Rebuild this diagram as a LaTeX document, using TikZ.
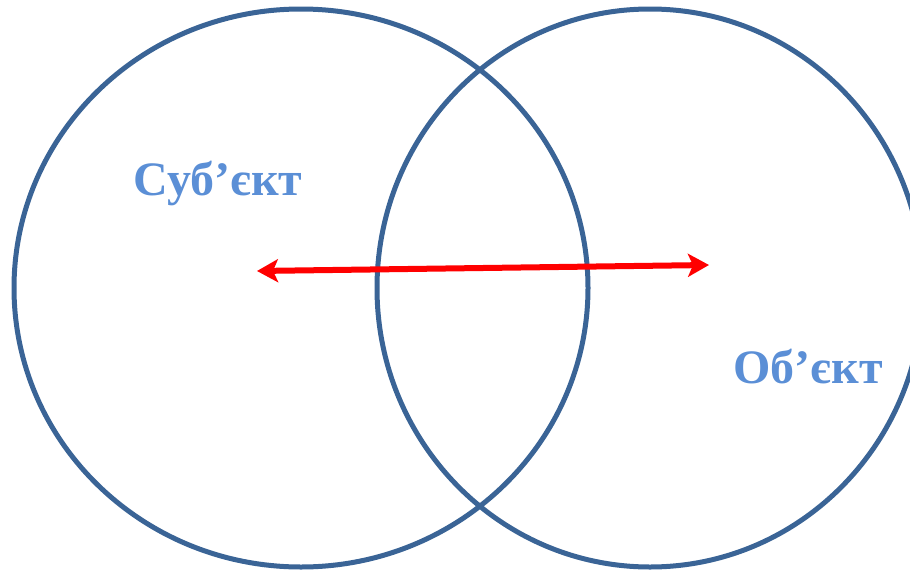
\documentclass[tikz,border=0pt]{standalone}
\usepackage{fontspec}
\setmainfont{Liberation Serif}
\usetikzlibrary{arrows.meta}
\definecolor{ringblue}{HTML}{3A6496}
\definecolor{textblue}{HTML}{5B8FD6}
\begin{document}
\begin{tikzpicture}[x=1pt, y=-1pt,
  ring/.style={draw=ringblue, line width=5pt},
  word/.style={text=textblue, font=\fontsize{48}{54}\selectfont\bfseries}]
\useasboundingbox (0,0) rectangle (910,570);
\begin{scope}
\clip (0,0) rectangle (910,570);
\draw[ring] (301,288) ellipse [x radius=287pt, y radius=279pt];
\draw[ring] (650,288) ellipse [x radius=273pt, y radius=279pt];
\end{scope}
\node[word] (subj) at (218,183) {Суб’єкт};
\node[word] (obj) at (808,367) {Об’єкт};
\coordinate (subjEnd) at (257,271);
\coordinate (objEnd) at (709,265);
\draw[red, line width=6pt, {Stealth[length=21pt,width=23pt,inset=5pt]}-{Stealth[length=21pt,width=23pt,inset=5pt]}] (subjEnd) -- (objEnd);
\end{tikzpicture}
\end{document}
